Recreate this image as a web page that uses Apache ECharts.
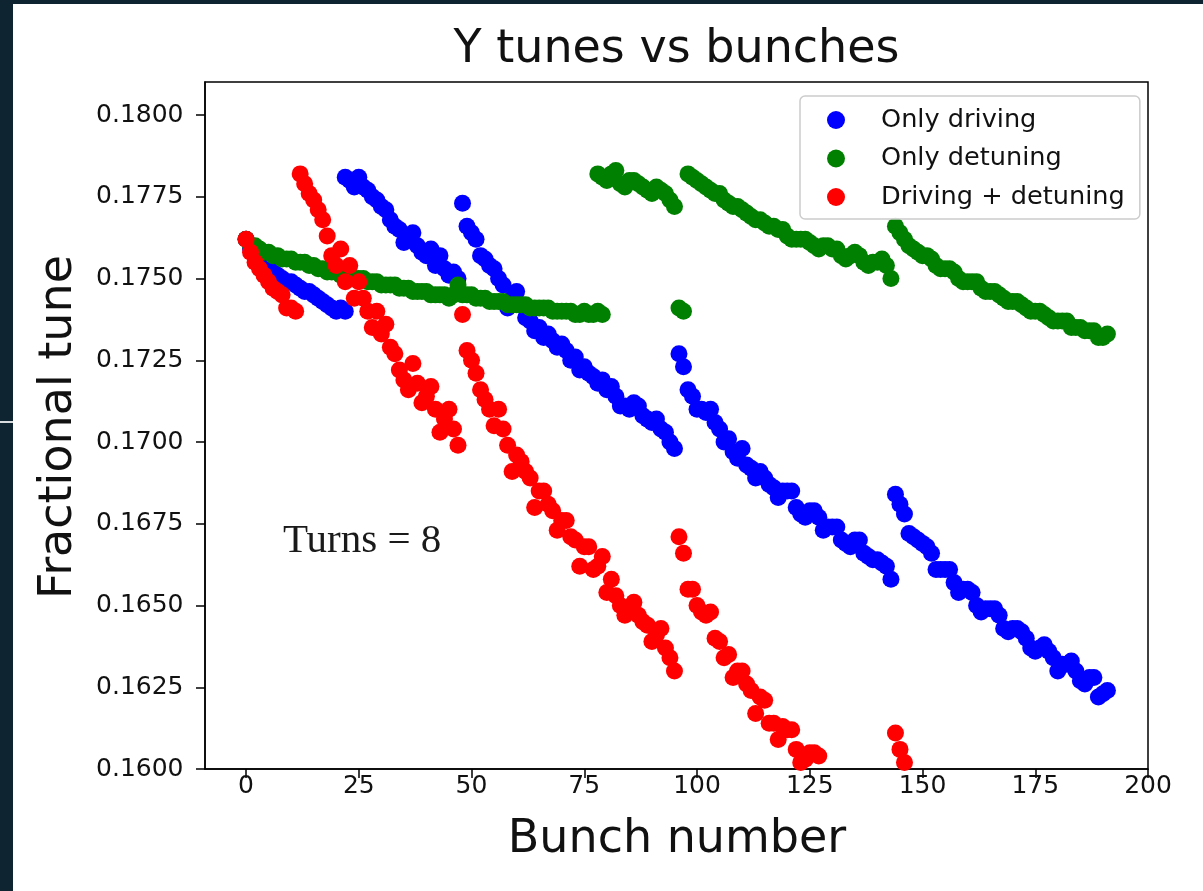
<!DOCTYPE html>
<html>
<head>
<meta charset="utf-8">
<script src="https://cdn.jsdelivr.net/npm/echarts@6/dist/echarts.min.js"></script>
<style>
  html, body { margin: 0; padding: 0; width: 1203px; height: 891px; overflow: hidden; background: #0e2430; }
  #sheet { position: absolute; left: 13px; top: 4px; width: 1190px; height: 887px; background: #ffffff; }
  #rule { position: absolute; left: 0; top: 421px; width: 13px; height: 2px; background: #d8dcde; }
  #chart { position: absolute; left: 0; top: 0; width: 1203px; height: 891px; }
</style>
</head>
<body>
<div id="sheet"></div>
<div id="rule"></div>
<div id="chart"></div>
<script>
// Fractional Y tune per bunch; each batch is a run of consecutive bunches
// starting at the bunch number given in the matching *Starts array.

const drivingStarts = [0, 22, 48, 96, 144];
const drivingTunes = [
  [0.1762, 0.1759, 0.1757, 0.1755, 0.1754, 0.1753, 0.1752, 0.1751, 0.1750, 0.1749,
   0.1749, 0.1748, 0.1747, 0.1746, 0.1746, 0.1745, 0.1744, 0.1743, 0.1742, 0.1741,
   0.1740, 0.1741, 0.1740],
  [0.1781, 0.1780, 0.1778, 0.1781, 0.1778, 0.1777, 0.1775, 0.1774, 0.1772, 0.1771,
   0.1768, 0.1766, 0.1765, 0.1761, 0.1763, 0.1764, 0.1760, 0.1758, 0.1757, 0.1759,
   0.1754, 0.1757, 0.1753, 0.1751, 0.1752, 0.1750],
  [0.1773, 0.1766, 0.1764, 0.1762, 0.1757, 0.1756, 0.1754, 0.1753, 0.1750, 0.1748,
   0.1741, 0.1744, 0.1746, 0.1742, 0.1738, 0.1737, 0.1734, 0.1735, 0.1732, 0.1733,
   0.1731, 0.1729, 0.1730, 0.1728, 0.1725, 0.1726, 0.1722, 0.1723, 0.1721, 0.1720,
   0.1718, 0.1719, 0.1716, 0.1717, 0.1714, 0.1711, 0.1711, 0.1710, 0.1712, 0.1711,
   0.1708, 0.1707, 0.1706, 0.1707, 0.1704, 0.1703, 0.1700, 0.1698],
  [0.1727, 0.1723, 0.1716, 0.1714, 0.1710, 0.1710, 0.1709, 0.1710, 0.1706, 0.1704,
   0.1700, 0.1701, 0.1697, 0.1695, 0.1698, 0.1693, 0.1692, 0.1689, 0.1691, 0.1689,
   0.1687, 0.1686, 0.1683, 0.1685, 0.1685, 0.1685, 0.1680, 0.1678, 0.1677, 0.1679,
   0.1679, 0.1677, 0.1673, 0.1674, 0.1674, 0.1674, 0.1670, 0.1669, 0.1668, 0.1670,
   0.1670, 0.1666, 0.1665, 0.1664, 0.1664, 0.1663, 0.1662, 0.1658],
  [0.1684, 0.1681, 0.1678, 0.1672, 0.1671, 0.1670, 0.1669, 0.1668, 0.1666, 0.1661,
   0.1661, 0.1661, 0.1661, 0.1657, 0.1654, 0.1655, 0.1655, 0.1654, 0.1650, 0.1648,
   0.1649, 0.1649, 0.1649, 0.1647, 0.1643, 0.1642, 0.1643, 0.1643, 0.1642, 0.1640,
   0.1637, 0.1636, 0.1637, 0.1638, 0.1636, 0.1634, 0.1630, 0.1632, 0.1632, 0.1633,
   0.1630, 0.1627, 0.1626, 0.1628, 0.1628, 0.1622, 0.1623, 0.1624]
];

const detuningStarts = [0, 78, 96, 98, 144];
const detuningTunes = [
  [0.1762, 0.1760, 0.1760, 0.1759, 0.1758, 0.1758, 0.1757, 0.1757, 0.1756, 0.1756,
   0.1756, 0.1755, 0.1755, 0.1755, 0.1754, 0.1754, 0.1753, 0.1753, 0.1752, 0.1752,
   0.1752, 0.1751, 0.1751, 0.1751, 0.1750, 0.1750, 0.1750, 0.1749, 0.1749, 0.1749,
   0.1748, 0.1748, 0.1748, 0.1748, 0.1747, 0.1747, 0.1747, 0.1746, 0.1746, 0.1746,
   0.1746, 0.1745, 0.1745, 0.1745, 0.1745, 0.1744, 0.1745, 0.1748, 0.1745, 0.1745,
   0.1745, 0.1744, 0.1744, 0.1744, 0.1743, 0.1743, 0.1743, 0.1743, 0.1742, 0.1742,
   0.1742, 0.1742, 0.1742, 0.1741, 0.1741, 0.1741, 0.1741, 0.1741, 0.1740, 0.1740,
   0.1740, 0.1740, 0.1740, 0.1739, 0.1739, 0.1740, 0.1739, 0.1739, 0.1740, 0.1739],
  [0.1782, 0.1781, 0.1780, 0.1782, 0.1783, 0.1779, 0.1778, 0.1780, 0.1780, 0.1779,
   0.1778, 0.1777, 0.1776, 0.1778, 0.1777, 0.1776, 0.1774, 0.1772],
  [0.1741, 0.1740],
  [0.1782, 0.1781, 0.1780, 0.1779, 0.1778, 0.1777, 0.1776, 0.1776, 0.1774, 0.1773,
   0.1772, 0.1772, 0.1771, 0.1770, 0.1769, 0.1768, 0.1768, 0.1767, 0.1766, 0.1766,
   0.1765, 0.1765, 0.1763, 0.1762, 0.1762, 0.1762, 0.1762, 0.1761, 0.1760, 0.1759,
   0.1760, 0.1760, 0.1759, 0.1759, 0.1757, 0.1756, 0.1757, 0.1758, 0.1757, 0.1755,
   0.1754, 0.1755, 0.1755, 0.1756, 0.1754, 0.1750],
  [0.1766, 0.1764, 0.1762, 0.1760, 0.1759, 0.1758, 0.1757, 0.1757, 0.1756, 0.1754,
   0.1753, 0.1753, 0.1753, 0.1752, 0.1750, 0.1749, 0.1749, 0.1749, 0.1749, 0.1747,
   0.1746, 0.1746, 0.1746, 0.1745, 0.1744, 0.1743, 0.1743, 0.1743, 0.1742, 0.1741,
   0.1740, 0.1740, 0.1740, 0.1739, 0.1738, 0.1737, 0.1737, 0.1737, 0.1737, 0.1735,
   0.1735, 0.1735, 0.1734, 0.1734, 0.1734, 0.1732, 0.1732, 0.1733]
];

const bothStarts = [0, 12, 48, 96, 144];
const bothTunes = [
  [0.1762, 0.1758, 0.1755, 0.1753, 0.1751, 0.1749, 0.1747, 0.1746, 0.1745, 0.1741,
   0.1741, 0.1740],
  [0.1782, 0.1779, 0.1776, 0.1774, 0.1771, 0.1768, 0.1763, 0.1757, 0.1754, 0.1759,
   0.1749, 0.1754, 0.1744, 0.1749, 0.1744, 0.1740, 0.1735, 0.1740, 0.1733, 0.1736,
   0.1729, 0.1727, 0.1722, 0.1719, 0.1716, 0.1724, 0.1718, 0.1712, 0.1714, 0.1717,
   0.1710, 0.1703, 0.1707, 0.1710, 0.1704, 0.1699],
  [0.1739, 0.1728, 0.1725, 0.1721, 0.1716, 0.1713, 0.1710, 0.1705, 0.1710, 0.1704,
   0.1699, 0.1691, 0.1696, 0.1694, 0.1691, 0.1689, 0.1680, 0.1685, 0.1685, 0.1681,
   0.1679, 0.1673, 0.1676, 0.1676, 0.1671, 0.1670, 0.1662, 0.1668, 0.1668, 0.1661,
   0.1662, 0.1665, 0.1654, 0.1658, 0.1653, 0.1650, 0.1647, 0.1649, 0.1651, 0.1647,
   0.1645, 0.1644, 0.1639, 0.1641, 0.1643, 0.1637, 0.1634, 0.1630],
  [0.1671, 0.1666, 0.1655, 0.1655, 0.1650, 0.1648, 0.1647, 0.1648, 0.1640, 0.1639,
   0.1634, 0.1635, 0.1628, 0.1630, 0.1630, 0.1626, 0.1624, 0.1617, 0.1622, 0.1621,
   0.1614, 0.1614, 0.1609, 0.1613, 0.1612, 0.1612, 0.1606, 0.1602, 0.1603, 0.1605,
   0.1605, 0.1604],
  [0.1611, 0.1606, 0.1602]
];

const seriesNames = ['Only driving', 'Only detuning', 'Driving + detuning'];
const seriesColors = ['#0000ff', '#008000', '#ff0000'];

const bunchTicks = [0, 25, 50, 75, 100, 125, 150, 175, 200];
const tuneTicks = [0.1600, 0.1625, 0.1650, 0.1675, 0.1700, 0.1725, 0.1750, 0.1775, 0.1800];

function toPoints(starts, runs) {
  const pts = [];
  runs.forEach((run, k) => run.forEach((v, i) => pts.push([starts[k] + i, v])));
  return pts;
}

const seriesData = [
  toPoints(drivingStarts, drivingTunes),
  toPoints(detuningStarts, detuningTunes),
  toPoints(bothStarts, bothTunes)
];

const FONT = 'DejaVu Sans';
const INK = '#111111';

const chart = echarts.init(document.getElementById('chart'), null, { renderer: 'canvas' });

chart.setOption({
  animation: false,
  backgroundColor: 'transparent',
  textStyle: { fontFamily: FONT },
  grid: {
    left: 205, top: 82, width: 943, height: 687,
    show: true, borderColor: '#000', borderWidth: 1.5, backgroundColor: 'transparent'
  },
  xAxis: {
    type: 'value', min: -9.1, max: 200,
    axisLine: { show: true, onZero: false, lineStyle: { color: '#000', width: 1.5 } },
    axisTick: { show: true, length: 9, customValues: bunchTicks, lineStyle: { color: '#000', width: 1.5 } },
    axisLabel: { customValues: bunchTicks, fontSize: 25, color: INK, margin: 5, fontFamily: FONT },
    splitLine: { show: false }
  },
  yAxis: {
    type: 'value', min: 0.16, max: 0.18101,
    axisLine: { show: true, onZero: false, lineStyle: { color: '#000', width: 1.5 } },
    axisTick: { show: true, length: 9, customValues: tuneTicks, lineStyle: { color: '#000', width: 1.5 } },
    axisLabel: {
      customValues: tuneTicks, fontSize: 25, color: INK, margin: 21.5, fontFamily: FONT,
      formatter: v => v.toFixed(4)
    },
    splitLine: { show: false }
  },
  legend: {
    orient: 'vertical', left: 800, top: 96,
    padding: [9, 15, 7, 27], itemGap: 8.5, itemWidth: 30, itemHeight: 18,
    icon: 'circle',
    backgroundColor: 'rgba(255,255,255,0.8)',
    borderColor: '#cccccc', borderWidth: 1.5, borderRadius: 5,
    textStyle: { fontSize: 25.6, color: INK, fontFamily: FONT, lineHeight: 30, padding: [0, 0, 0, 25] },
    data: seriesNames
  },
  series: seriesNames.map((name, i) => ({
    name,
    type: 'scatter',
    data: seriesData[i],
    symbol: 'circle',
    symbolSize: 17,
    itemStyle: { color: seriesColors[i], opacity: 1 },
    emphasis: { disabled: true }
  })),
  graphic: [
    { type: 'text', x: 676.5, y: 50,
      style: { text: 'Y tunes vs bunches', font: '46px "DejaVu Sans"', fill: INK, align: 'center', verticalAlign: 'middle' } },
    { type: 'text', x: 677, y: 840,
      style: { text: 'Bunch number', font: '46px "DejaVu Sans"', fill: INK, align: 'center', verticalAlign: 'middle' } },
    { type: 'text', x: 59, y: 427, rotation: Math.PI / 2,
      style: { text: 'Fractional tune', font: '46px "DejaVu Sans"', fill: INK, align: 'center', verticalAlign: 'middle' } },
    { type: 'text', x: 283, y: 541,
      style: { text: 'Turns = 8', font: '41px "Liberation Serif"', fill: '#1a1a1a', align: 'left', verticalAlign: 'middle' } }
  ]
});
</script>
</body>
</html>
